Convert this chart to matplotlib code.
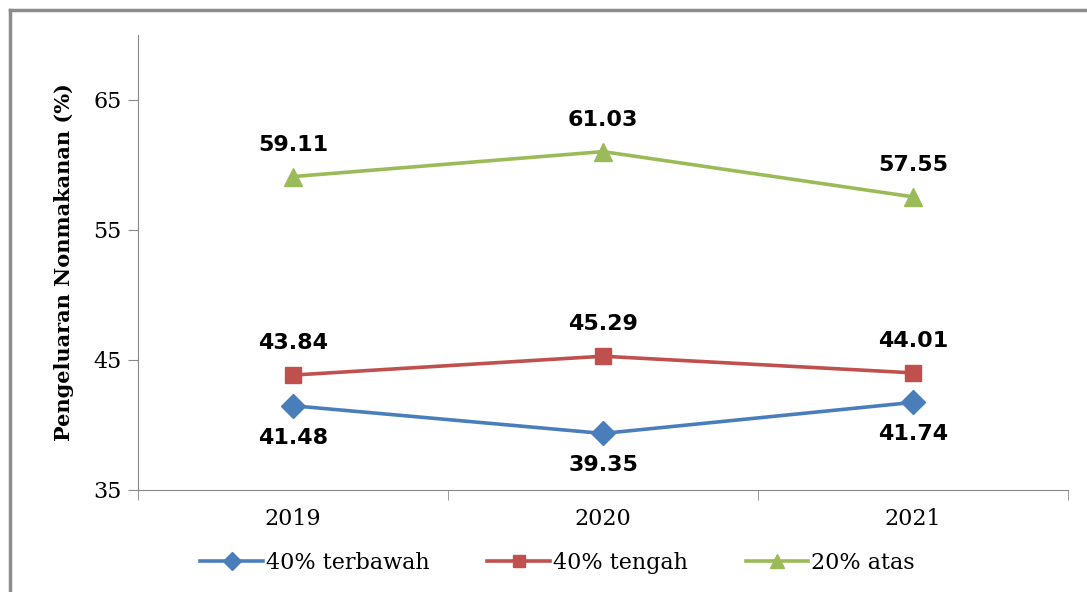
import numpy as np
from matplotlib import pyplot as plt
from matplotlib.lines import Line2D

# data
years = ['2019', '2020', '2021']
bawah = [41.48, 39.35, 41.74]
tengah = [43.84, 45.29, 44.01]
atas = [59.11, 61.03, 57.55]
names = ['40% terbawah', '40% tengah', '20% atas']
yticks = [35, 45, 55, 65]

fig = plt.figure(figsize=(10.87, 5.92), dpi=100)
ax = fig.add_axes([0.127, 0.1723, 0.8555, 0.7686])

x = np.arange(len(years))
series = [
    (bawah, '#4A7EBB', 'D', 12, 1),
    (tengah, '#C0504D', 's', 11, -1),
    (atas, '#9BBB59', '^', 13, -1),
]
handles = []
for (vals, col, mk, ms, side), nm in zip(series, names):
    h, = ax.plot(x, vals, color=col, lw=2.6, marker=mk, markersize=ms,
                 label=nm, clip_on=False)
    handles.append(h)
    for xi, v in zip(x, vals):
        ax.annotate('%.2f' % v, (xi, v), xytext=(0, -23 * side),
                    textcoords='offset points', ha='center', va='center',
                    fontsize=16, fontweight='bold', family='DejaVu Sans')

ax.set_ylim(35, 70)
ax.set_xlim(-0.5, 2.5)
ax.set_yticks(yticks)
ax.set_xticks(x)
ax.set_xticklabels(years)
ax.set_xticks([-0.5, 0.5, 1.5, 2.5], minor=True)
ax.tick_params(axis='x', which='major', length=0, pad=13)
ax.tick_params(axis='x', which='minor', length=7, color='#888888')
ax.tick_params(axis='y', length=7, color='#888888', pad=5)
for lab in ax.get_xticklabels() + ax.get_yticklabels():
    lab.set_family('DejaVu Serif')
    lab.set_fontsize(16)
for s in ['top', 'right']:
    ax.spines[s].set_visible(False)
for s in ['left', 'bottom']:
    ax.spines[s].set_color('#888888')
ax.set_ylabel('Pengeluaran Nonmakanan (%)', family='DejaVu Serif',
              fontweight='bold', fontsize=15, labelpad=14)

fig.legend(handles=handles, loc='center', bbox_to_anchor=(0.513, 0.049),
           ncol=3, frameon=False, prop={'family': 'DejaVu Serif', 'size': 16},
           handlelength=2.8, handletextpad=0.15, columnspacing=2.6,
           markerscale=0.75)

# outer chart frame (left and top edges)
fig.add_artist(Line2D([0.009, 0.009], [0, 0.983], transform=fig.transFigure,
                      color='#8c8c8c', lw=2.5))
fig.add_artist(Line2D([0.009, 1.0], [0.983, 0.983], transform=fig.transFigure,
                      color='#8c8c8c', lw=2.5))

fig.savefig('out.png', dpi=100)
